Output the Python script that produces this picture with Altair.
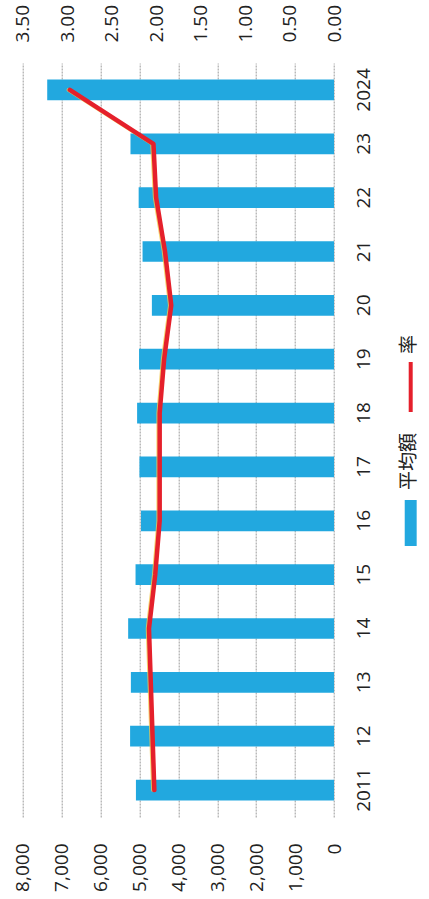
import altair as alt
import pandas as pd

years = ["2011", "12", "13", "14", "15", "16", "17", "18", "19", "20", "21", "22", "23", "2024"]
avg_amount = [5090, 5240, 5220, 5290, 5100, 4960, 5000, 5060, 5010, 4680, 4920, 5020, 5230, 7370]
rate = [2.02, 2.04, 2.06, 2.08, 2.01, 1.96, 1.96, 1.96, 1.91, 1.83, 1.90, 2.00, 2.03, 2.97]
amount_ticks = [0, 1000, 2000, 3000, 4000, 5000, 6000, 7000, 8000]
rate_ticks = [0, 0.5, 1.0, 1.5, 2.0, 2.5, 3.0, 3.5]
legend_names = ["率", "平均額"]
legend_colors = ["#e5202b", "#22a8df"]

df = pd.DataFrame({"year": years, "amount": avg_amount, "rate": rate})
leg = pd.DataFrame({"name": legend_names, "color": legend_colors})

FONT = "Open Sans"
order = list(reversed(years))

yband = alt.Y("year:N", sort=order,
              scale=alt.Scale(paddingInner=0.616, paddingOuter=0.308),
              axis=alt.Axis(orient="right", title=None, labelAngle=270, ticks=False, tickSize=0,
                            domain=False, labelPadding=20, labelFontSize=19, labelFont=FONT,
                            labelColor="#222222", grid=False))

bars = alt.Chart(df).mark_bar(color="#22a8df").encode(
    y=yband,
    x=alt.X("amount:Q", scale=alt.Scale(domain=[0, 8000], reverse=True, nice=False),
            axis=alt.Axis(orient="bottom", title=None, values=amount_ticks,
                          labelExpr="format(datum.value, ',')",
                          labelAngle=270, ticks=False, tickSize=0, domain=False,
                          labelPadding=26, labelFontSize=19, labelFont=FONT, labelColor="#222222",
                          grid=True, gridColor="#9a9a9a", gridDash=[2, 1], gridWidth=1)),
)

rate_x = alt.X("rate:Q", scale=alt.Scale(domain=[0, 3.5], reverse=True, nice=False),
               axis=alt.Axis(orient="top", title=None, values=rate_ticks,
                             labelExpr="format(datum.value, '.2f')",
                             labelAngle=270, ticks=False, tickSize=0, domain=False,
                             labelPadding=21, labelFontSize=19, labelFont=FONT,
                             labelColor="#222222", grid=False))

line_shadow = alt.Chart(df).mark_line(color="#f2c84a", strokeWidth=3.5, xOffset=-1.5,
                                      strokeCap="round", strokeJoin="round", opacity=0.8).encode(
    y=alt.Y("year:N", sort=order), x=rate_x)
line = alt.Chart(df).mark_line(color="#e5202b", strokeWidth=4.5,
                               strokeCap="round", strokeJoin="round").encode(
    y=alt.Y("year:N", sort=order),
    x=alt.X("rate:Q", scale=alt.Scale(domain=[0, 3.5], reverse=True, nice=False), axis=None))

main = alt.layer(bars, line_shadow, line).resolve_scale(x="independent")

leg_y = alt.Y("name:N", sort=legend_names,
              scale=alt.Scale(type="point", domain=legend_names, range=[324, 460], padding=0),
              axis=None)

leg_line = alt.Chart(leg).transform_filter(alt.datum.name == "率").mark_point(
    shape="M-0.08,-1H0.08V1H-0.08Z", size=2500, filled=True, opacity=1, strokeWidth=0).encode(
    y=leg_y, x=alt.value(388), color=alt.Color("color:N", scale=None))
leg_rect = alt.Chart(leg).transform_filter(alt.datum.name == "平均額").mark_point(
    shape="M-0.26,-1H0.26V1H-0.26Z", size=2116, filled=True, opacity=1, strokeWidth=0).encode(
    y=leg_y, x=alt.value(388), color=alt.Color("color:N", scale=None))
leg_txt = alt.Chart(leg).mark_text(angle=270, align="left", baseline="middle", fontSize=19,
                                   font="Noto Sans CJK JP", color="#222222", yOffset=-33).encode(
    y=leg_y, x=alt.value(386), text="name:N")

legend = alt.layer(leg_line, leg_rect, leg_txt)

chart = alt.layer(main, legend).resolve_scale(y="independent").properties(
    width=311.3, height=754,
    autosize=alt.AutoSizeParams(type="none"),
    padding={"left": 22.7, "top": 63, "right": 95, "bottom": 82},
    background="white",
).configure_view(stroke=None)

chart.save("out.html", embed_options={"renderer": "svg", "actions": False})
